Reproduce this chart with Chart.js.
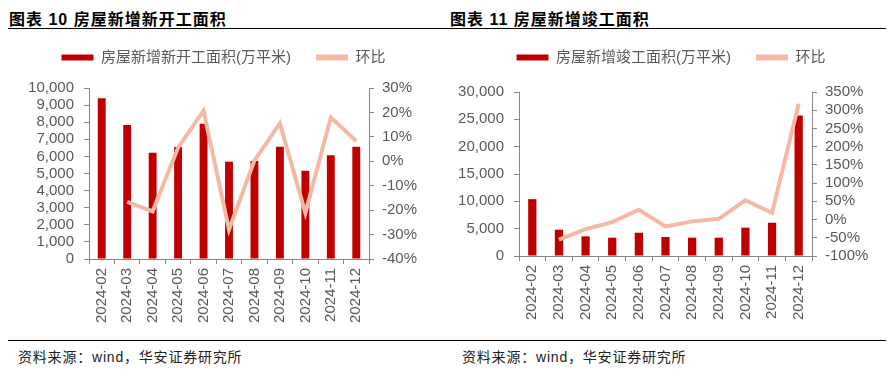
<html>
<head>
    <title>房屋新增新开工面积 / 竣工面积</title>
    <script src="https://cdn.jsdelivr.net/npm/chart.js@4.4.1/dist/chart.umd.min.js"></script>
    <style>
        body { margin: 0; background: #fff; width: 895px; height: 379px; position: relative; overflow: hidden; }
        .title { position: absolute; top: 6px; font: bold 16px 'Liberation Sans', 'Noto Sans CJK SC'; letter-spacing: 1px; color: #000; }
        .rule { position: absolute; height: 0; border-top: 1.5px solid #000; }
        .source { position: absolute; top: 346px; font: 14px 'Liberation Sans', 'Noto Sans CJK SC'; letter-spacing: 0.8px; color: #222; }
        canvas { position: absolute; }
    </style>
</head>

<body>
    <div class="title" style="left:9px">图表 10 房屋新增新开工面积</div>
    <div class="title" style="left:450px">图表 11 房屋新增竣工面积</div>
    <div class="rule" style="left:8px; width:440px; top:28px"></div>
    <div class="rule" style="left:448px; width:438px; top:28px"></div>
    <div class="rule" style="left:8px; width:440px; top:340px"></div>
    <div class="rule" style="left:448px; width:438px; top:340px"></div>
    <div class="source" style="left:18px">资料来源：wind，华安证券研究所</div>
    <div class="source" style="left:462px">资料来源：wind，华安证券研究所</div>

    <canvas id="starts" width="447" height="315" style="left:0; top:25px"></canvas>
    <canvas id="completions" width="448" height="315" style="left:447px; top:25px"></canvas>
    <script>
        // months shared by both charts
        const months = ['2024-02', '2024-03', '2024-04', '2024-05', '2024-06', '2024-07',
                        '2024-08', '2024-09', '2024-10', '2024-11', '2024-12'];

        // 图表10: new starts (万平米) and month-on-month change (%)
        const startsArea = [9400, 7840, 6220, 6550, 7910, 5690, 5730, 6570, 5160, 6060, 6570];
        const startsMoM = [null, -16.6, -20.5, 5.6, 20.7, -28.0, 0.4, 15.5, -21.2, 17.9, 8.3];

        // 图表11: completions (万平米) and month-on-month change (%)
        const complArea = [10400, 4810, 3590, 3350, 4260, 3470, 3350, 3350, 5180, 6090, 25700];
        const complMoM = [null, -55, -26, -7, 27, -19, -5, 2, 53, 18, 318];

        const barRed = '#C00000';
        const lineSalmon = '#F4B9A4';
        const axisGray = '#868686';
        const tickGray = '#595959';
        const tickFont = { family: "'Liberation Sans', Arial", size: 15, lineHeight: 1 };

        function makeChart(id, barLabel, bars, mom, cfg) {
            // fix the legend block height so the plot lands where the reference has it
            const legendHeight = {
                id: 'legendHeight',
                beforeInit(chart) {
                    const fit = chart.legend.fit;
                    chart.legend.fit = function () {
                        fit.call(this);
                        this.height = cfg.top;
                    };
                }
            };

            return new Chart(document.getElementById(id).getContext('2d'), {
                data: {
                    labels: months,
                    datasets: [{
                        type: 'bar',
                        label: barLabel,
                        data: bars,
                        backgroundColor: barRed,
                        borderColor: barRed,
                        borderWidth: 0,
                        barPercentage: 0.31,
                        categoryPercentage: 1,
                        yAxisID: 'y',
                        order: 1
                    }, {
                        type: 'line',
                        label: '环比',
                        data: mom,
                        borderColor: lineSalmon,
                        backgroundColor: lineSalmon,
                        borderWidth: 4,
                        pointRadius: 0,
                        tension: 0,
                        yAxisID: 'y1',
                        order: 0
                    }]
                },
                options: {
                    responsive: false,
                    animation: false,
                    layout: { padding: 0 },
                    plugins: {
                        tooltip: { enabled: false },
                        legend: {
                            position: 'top',
                            labels: {
                                boxWidth: 32,
                                boxHeight: 6,
                                padding: 25,
                                color: tickGray,
                                font: { family: "'Liberation Sans', 'Noto Sans CJK SC'", size: 15 },
                                sort: (a, b) => a.datasetIndex - b.datasetIndex,
                                generateLabels(chart) {
                                    const items = Chart.defaults.plugins.legend.labels.generateLabels(chart);
                                    items.forEach(i => { i.lineWidth = 0; i.fillStyle = i.strokeStyle; });
                                    return items;
                                }
                            }
                        }
                    },
                    scales: {
                        x: {
                            offset: true,
                            grid: { display: true, offset: true, drawOnChartArea: false, drawTicks: true, tickLength: 5, color: axisGray },
                            border: { display: true, color: axisGray },
                            ticks: { color: tickGray, font: tickFont, minRotation: 90, maxRotation: 90, autoSkip: false, padding: 4 },
                            afterFit(scale) { scale.height = cfg.xHeight; }
                        },
                        y: {
                            position: 'left',
                            min: 0,
                            max: cfg.yMax,
                            grid: { drawOnChartArea: false, tickLength: 5, color: axisGray },
                            border: { display: true, color: axisGray },
                            ticks: {
                                stepSize: cfg.yStep,
                                autoSkip: false,
                                maxTicksLimit: 20,
                                color: tickGray,
                                font: tickFont,
                                padding: 10,
                                callback: v => v.toLocaleString('en-US')
                            },
                            afterFit(scale) { scale.width = cfg.leftW; }
                        },
                        y1: {
                            position: 'right',
                            min: cfg.pMin,
                            max: cfg.pMax,
                            grid: { drawOnChartArea: false, tickLength: 5, color: axisGray },
                            border: { display: true, color: axisGray },
                            ticks: {
                                stepSize: cfg.pStep,
                                autoSkip: false,
                                maxTicksLimit: 20,
                                color: tickGray,
                                font: tickFont,
                                padding: 8,
                                callback: v => v + '%'
                            },
                            afterFit(scale) { scale.width = cfg.rightW; }
                        }
                    }
                },
                plugins: [legendHeight]
            });
        }

        makeChart('starts', '房屋新增新开工面积(万平米)', startsArea, startsMoM, {
            top: 63, xHeight: 81, leftW: 89, rightW: 78,
            yMax: 10000, yStep: 1000, pMin: -40, pMax: 30, pStep: 10
        });

        makeChart('completions', '房屋新增竣工面积(万平米)', complArea, complMoM, {
            top: 67, xHeight: 84, leftW: 72, rightW: 83,
            yMax: 30000, yStep: 5000, pMin: -100, pMax: 350, pStep: 50
        });
    </script>
</body>

</html>
